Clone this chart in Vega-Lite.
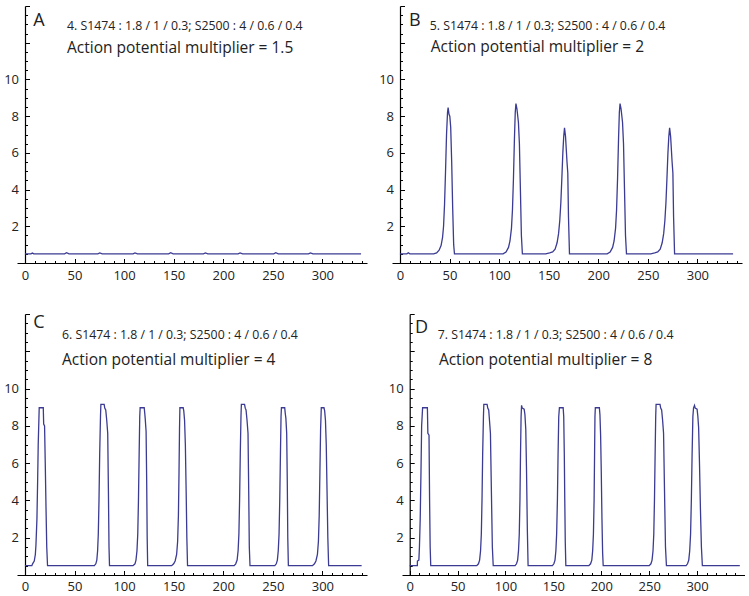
{
  "$schema": "https://vega.github.io/schema/vega-lite/v6.json",
  "padding": {"left": 3, "top": 5, "right": 0, "bottom": 0},
  "config": {
    "view": {"stroke": null},
    "axis": {"grid": false, "domainColor": "#000", "tickColor": "#000", "domainWidth": 1.2, "tickWidth": 1, "labelFont": "Open Sans", "labelFontSize": 13, "labelColor": "#222", "labelFlush": false}
  },
  "datasets": {
    "a": [
      {"t":0,"v":0.5},{"t":6,"v":0.5},{"t":7.5,"v":0.54},{"t":9,"v":0.5},{"t":40,"v":0.5},{"t":42,"v":0.56},{"t":44.5,"v":0.5},{"t":73.5,"v":0.5},{"t":75.5,"v":0.55},{"t":78,"v":0.5},{"t":109,"v":0.5},{"t":111,"v":0.55},{"t":113.5,"v":0.5},{"t":145,"v":0.5},{"t":147,"v":0.56},{"t":149.5,"v":0.5},{"t":180,"v":0.5},{"t":182,"v":0.55},{"t":184.5,"v":0.5},{"t":215,"v":0.5},{"t":217,"v":0.55},{"t":219.5,"v":0.5},{"t":251,"v":0.5},{"t":253,"v":0.56},{"t":255.5,"v":0.5},{"t":286,"v":0.5},{"t":288,"v":0.55},{"t":290.5,"v":0.5},{"t":339,"v":0.5}
    ],
    "b": [
      {"t":0,"v":0.5},{"t":7,"v":0.5},{"t":8.5,"v":0.56},{"t":10,"v":0.5},
      {"t":34,"v":0.5},{"t":37,"v":0.55},{"t":39.5,"v":0.7},{"t":41.5,"v":0.95},{"t":43,"v":1.4},{"t":44,"v":2.0},{"t":45,"v":3.2},{"t":46,"v":5.0},{"t":47,"v":7.0},{"t":48,"v":8.2},{"t":48.6,"v":8.46},{"t":49.5,"v":8.1},{"t":50.3,"v":8.0},{"t":51.2,"v":7.4},{"t":52.2,"v":5.5},{"t":53.2,"v":3.0},{"t":54.2,"v":1.0},{"t":55,"v":0.5},
      {"t":104,"v":0.5},{"t":107,"v":0.6},{"t":109.5,"v":0.85},{"t":111,"v":1.2},{"t":112.5,"v":1.9},{"t":113.5,"v":2.9},{"t":114.5,"v":4.6},{"t":115.5,"v":6.8},{"t":116.3,"v":8.2},{"t":117,"v":8.68},{"t":118,"v":8.4},{"t":119.5,"v":7.67},{"t":120.5,"v":6.5},{"t":121.5,"v":4.0},{"t":122.5,"v":1.5},{"t":123.5,"v":0.5},
      {"t":147,"v":0.5},{"t":151,"v":0.55},{"t":154,"v":0.6},{"t":156.5,"v":0.75},{"t":158.5,"v":1.1},{"t":160,"v":1.6},{"t":161.2,"v":2.3},{"t":162.3,"v":3.3},{"t":163.3,"v":4.6},{"t":164.3,"v":6.0},{"t":165.2,"v":6.9},{"t":166,"v":7.36},{"t":167,"v":6.9},{"t":168.5,"v":5.5},{"t":169.3,"v":4.9},{"t":170,"v":2.5},{"t":171,"v":0.5},
      {"t":209,"v":0.5},{"t":212,"v":0.6},{"t":214.5,"v":0.85},{"t":216,"v":1.2},{"t":217.5,"v":1.9},{"t":218.5,"v":2.9},{"t":219.5,"v":4.6},{"t":220.5,"v":6.8},{"t":221.3,"v":8.2},{"t":222,"v":8.68},{"t":223,"v":8.4},{"t":224.5,"v":7.67},{"t":225.5,"v":6.5},{"t":226.5,"v":4.0},{"t":227.5,"v":1.5},{"t":228.5,"v":0.5},
      {"t":253,"v":0.5},{"t":257,"v":0.55},{"t":260,"v":0.6},{"t":262.5,"v":0.75},{"t":264.5,"v":1.1},{"t":266,"v":1.6},{"t":267.2,"v":2.3},{"t":268.3,"v":3.3},{"t":269.3,"v":4.6},{"t":270.3,"v":6.0},{"t":271.2,"v":6.9},{"t":272,"v":7.36},{"t":273,"v":6.9},{"t":274.5,"v":5.5},{"t":275.3,"v":4.9},{"t":276,"v":2.5},{"t":277,"v":0.5},
      {"t":336,"v":0.5}
    ],
    "c": [
      {"t":0,"v":0.5},{"t":7,"v":0.5},{"t":7.7,"v":0.6},{"t":9.4,"v":0.75},{"t":10.5,"v":1.1},{"t":11.1,"v":1.6},{"t":12.1,"v":3.0},{"t":12.8,"v":5.0},{"t":13.4,"v":7.0},{"t":14.4,"v":8.97},{"t":18.5,"v":8.97},{"t":18.9,"v":8.1},{"t":19.8,"v":8.0},{"t":20.5,"v":6.0},{"t":21.3,"v":3.5},{"t":22,"v":1.5},{"t":22.8,"v":0.5},
      {"t":70,"v":0.5},{"t":71.5,"v":0.6},{"t":72.5,"v":0.8},{"t":73.3,"v":1.3},{"t":74,"v":2.2},{"t":74.7,"v":4},{"t":75.4,"v":6.5},{"t":76.2,"v":8.5},{"t":76.6,"v":9.15},{"t":79.9,"v":9.15},{"t":80.5,"v":8.95},{"t":81.5,"v":8.85},{"t":82.5,"v":8.3},{"t":83.5,"v":7.6},{"t":84.2,"v":4.5},{"t":84.8,"v":1.5},{"t":85.3,"v":0.5},
      {"t":109,"v":0.5},{"t":111,"v":0.6},{"t":112,"v":0.8},{"t":113,"v":1.3},{"t":113.8,"v":2.2},{"t":114.5,"v":4},{"t":115.2,"v":6.5},{"t":115.8,"v":8.5},{"t":116.2,"v":8.97},{"t":120.3,"v":8.97},{"t":120.8,"v":8.7},{"t":121.3,"v":8.4},{"t":122.2,"v":7.7},{"t":122.8,"v":5},{"t":123.3,"v":2},{"t":123.8,"v":0.5},
      {"t":148,"v":0.5},{"t":150,"v":0.6},{"t":151.5,"v":0.75},{"t":153,"v":1.1},{"t":154,"v":1.8},{"t":154.8,"v":3.2},{"t":155.4,"v":5.5},{"t":155.9,"v":7.8},{"t":156.3,"v":8.97},{"t":159.6,"v":8.97},{"t":160.2,"v":8.8},{"t":161,"v":8.3},{"t":161.8,"v":7.0},{"t":162.6,"v":4.5},{"t":163.3,"v":2.0},{"t":164,"v":0.5},
      {"t":211,"v":0.5},{"t":212.6,"v":0.6},{"t":214,"v":0.8},{"t":215,"v":1.3},{"t":215.8,"v":2.2},{"t":216.5,"v":4},{"t":217.2,"v":6.5},{"t":217.9,"v":8.5},{"t":218.3,"v":9.15},{"t":221.5,"v":9.15},{"t":222.2,"v":8.95},{"t":223,"v":8.85},{"t":224,"v":8.3},{"t":225,"v":7.6},{"t":225.7,"v":4.5},{"t":226.3,"v":1.5},{"t":227,"v":0.5},
      {"t":252,"v":0.5},{"t":253.5,"v":0.6},{"t":254.6,"v":0.8},{"t":255.5,"v":1.3},{"t":256.3,"v":2.2},{"t":257,"v":4},{"t":257.7,"v":6.5},{"t":258.3,"v":8.5},{"t":258.7,"v":8.97},{"t":262,"v":8.97},{"t":262.5,"v":8.7},{"t":263.2,"v":8.4},{"t":264,"v":7.6},{"t":264.6,"v":5},{"t":265.1,"v":2},{"t":265.7,"v":0.5},
      {"t":290,"v":0.5},{"t":292,"v":0.6},{"t":293.5,"v":0.75},{"t":295,"v":1.1},{"t":296,"v":1.8},{"t":296.8,"v":3.2},{"t":297.5,"v":5.5},{"t":298.2,"v":7.8},{"t":298.9,"v":8.97},{"t":301.6,"v":8.97},{"t":302.3,"v":8.8},{"t":303.1,"v":8.3},{"t":303.9,"v":7.0},{"t":304.7,"v":4.5},{"t":305.5,"v":2.0},{"t":306.3,"v":0.5},
      {"t":339.6,"v":0.5}
    ],
    "d": [
      {"t":0,"v":0.5},{"t":8,"v":0.5},{"t":8.1,"v":0.75},{"t":9.6,"v":0.8},{"t":10.2,"v":1.5},{"t":11,"v":3.0},{"t":11.8,"v":5.5},{"t":12.5,"v":8.0},{"t":13.5,"v":8.97},{"t":18.5,"v":8.97},{"t":19,"v":7.6},{"t":20.2,"v":7.5},{"t":20.8,"v":4},{"t":21.4,"v":1.5},{"t":22,"v":0.5},
      {"t":70,"v":0.5},{"t":71.8,"v":0.6},{"t":73,"v":0.8},{"t":74,"v":1.3},{"t":74.8,"v":2.2},{"t":75.5,"v":4},{"t":76.2,"v":6.5},{"t":77,"v":8.5},{"t":77.4,"v":9.15},{"t":80.8,"v":9.15},{"t":81.5,"v":8.95},{"t":82.5,"v":8.85},{"t":83.3,"v":8.3},{"t":84.3,"v":7.6},{"t":85.3,"v":4.5},{"t":86.3,"v":1.5},{"t":87.2,"v":0.5},
      {"t":110,"v":0.5},{"t":111.5,"v":0.6},{"t":112.7,"v":0.8},{"t":113.6,"v":1.3},{"t":114.4,"v":2.2},{"t":115.1,"v":4},{"t":115.7,"v":6.5},{"t":116.3,"v":8.5},{"t":116.8,"v":9.1},{"t":117.5,"v":8.95},{"t":119.5,"v":8.9},{"t":120.3,"v":8.6},{"t":121.2,"v":7.8},{"t":122,"v":5.5},{"t":122.8,"v":2.5},{"t":123.6,"v":0.5},
      {"t":149,"v":0.5},{"t":150.5,"v":0.6},{"t":151.7,"v":0.8},{"t":152.6,"v":1.3},{"t":153.4,"v":2.2},{"t":154.2,"v":4},{"t":154.9,"v":6.5},{"t":155.6,"v":8.5},{"t":156.3,"v":8.97},{"t":160.2,"v":8.97},{"t":160.8,"v":8.5},{"t":161.4,"v":6.5},{"t":161.9,"v":4},{"t":162.4,"v":1.8},{"t":163,"v":0.5},
      {"t":187,"v":0.5},{"t":188.8,"v":0.6},{"t":190.1,"v":0.8},{"t":191,"v":1.3},{"t":191.8,"v":2.2},{"t":192.5,"v":4},{"t":193,"v":6.5},{"t":193.4,"v":8.5},{"t":193.8,"v":8.97},{"t":198,"v":8.97},{"t":198.6,"v":8.6},{"t":199.3,"v":7.5},{"t":200,"v":5.5},{"t":200.7,"v":3},{"t":201.4,"v":1.2},{"t":202,"v":0.5},
      {"t":250,"v":0.5},{"t":251.8,"v":0.6},{"t":253,"v":0.8},{"t":254,"v":1.3},{"t":254.8,"v":2.2},{"t":255.5,"v":4},{"t":256.2,"v":6.5},{"t":256.8,"v":8.5},{"t":257.2,"v":9.15},{"t":261.3,"v":9.15},{"t":262,"v":8.95},{"t":263,"v":8.85},{"t":264,"v":8.3},{"t":265,"v":7.6},{"t":266,"v":4.5},{"t":267,"v":1.5},{"t":268,"v":0.5},
      {"t":288.5,"v":0.5},{"t":290,"v":0.6},{"t":291.3,"v":0.8},{"t":292.3,"v":1.3},{"t":293.2,"v":2.2},{"t":294,"v":4},{"t":294.8,"v":6.5},{"t":295.6,"v":8.5},{"t":296.3,"v":8.97},{"t":297.3,"v":9.1},{"t":298,"v":8.95},{"t":300,"v":8.9},{"t":300.8,"v":8.5},{"t":301.6,"v":7.9},{"t":302.5,"v":6},{"t":303.5,"v":3.5},{"t":304.5,"v":1.5},{"t":305.5,"v":0.5},
      {"t":344.6,"v":0.5}
    ]
  },
  "vconcat": [
    {
      "spacing": 11,
      "hconcat": [
        {
          "width": 350, "height": 257,
          "data": {"name": "a"},
          "resolve": {"axis": {"x": "independent", "y": "independent"}},
          "layer": [
            {"mark": {"type": "line", "color": "#3b3b94", "strokeWidth": 1.3},
             "encoding": {
               "x": {"field": "t", "type": "quantitative", "title": null, "scale": {"domain": [-8, 345], "nice": false, "zero": false}, "axis": {"orient": "bottom", "values": [0, 50, 100, 150, 200, 250, 300], "tickSize": -4.5, "labelPadding": 11}},
               "y": {"field": "v", "type": "quantitative", "title": null, "scale": {"domain": [0, 14], "nice": false}, "axis": {"orient": "left", "offset": -8, "values": [2, 4, 6, 8, 10], "tickSize": -4.5, "labelPadding": 11}}}},
            {"mark": {"type": "line", "opacity": 0},
             "encoding": {
               "x": {"field": "t", "type": "quantitative", "title": null, "scale": {"domain": [-8, 345], "nice": false, "zero": false}, "axis": {"orient": "bottom", "values": [10,20,30,40,60,70,80,90,110,120,130,140,160,170,180,190,210,220,230,240,260,270,280,290,310,320,330,340], "tickSize": -2.5, "labels": false, "domain": false}},
               "y": {"field": "v", "type": "quantitative", "title": null, "scale": {"domain": [0, 14], "nice": false}, "axis": {"orient": "left", "offset": -8, "values": [0.5,1,1.5,2.5,3,3.5,4.5,5,5.5,6.5,7,7.5,8.5,9,9.5,10.5,11,11.5,12.5,13,13.5], "tickSize": -2.5, "labels": false, "domain": false}}}},
            {"mark": {"type": "line", "opacity": 0},
             "encoding": {
               "x": {"field": "t", "type": "quantitative", "title": null, "scale": {"domain": [-8, 345], "nice": false, "zero": false}, "axis": null},
               "y": {"field": "v", "type": "quantitative", "title": null, "scale": {"domain": [0, 14], "nice": false}, "axis": {"orient": "left", "offset": -8, "values": [12, 14], "tickSize": -4.5, "labels": false, "domain": false}}}},
            {"data": {"values": [{"s": "A"}]},
             "mark": {"type": "text", "font": "Open Sans", "fontSize": 18, "align": "center", "baseline": "middle", "color": "#222"},
             "encoding": {"x": {"datum": 14, "type": "quantitative", "axis": null, "scale": {"domain": [-8, 345], "nice": false, "zero": false}}, "y": {"datum": 13.18, "type": "quantitative", "axis": null, "scale": {"domain": [0, 14], "nice": false}}, "text": {"field": "s"}}},
            {"data": {"values": [{"s": "4. S1474 : 1.8 / 1 / 0.3; S2500 : 4 / 0.6 / 0.4"}]},
             "mark": {"type": "text", "font": "Open Sans", "fontSize": 12.3, "align": "left", "baseline": "middle", "color": "#222"},
             "encoding": {"x": {"datum": 42.4, "type": "quantitative", "axis": null, "scale": {"domain": [-8, 345], "nice": false, "zero": false}}, "y": {"datum": 12.9, "type": "quantitative", "axis": null, "scale": {"domain": [0, 14], "nice": false}}, "text": {"field": "s"}}},
            {"data": {"values": [{"s": "Action potential multiplier = 1.5"}]},
             "mark": {"type": "text", "font": "Open Sans", "fontSize": 15.5, "align": "left", "baseline": "middle", "color": "#222"},
             "encoding": {"x": {"datum": 42.4, "type": "quantitative", "axis": null, "scale": {"domain": [-8, 345], "nice": false, "zero": false}}, "y": {"datum": 11.7, "type": "quantitative", "axis": null, "scale": {"domain": [0, 14], "nice": false}}, "text": {"field": "s"}}}
          ]
        },
        {
          "width": 350, "height": 257,
          "data": {"name": "b"},
          "resolve": {"axis": {"x": "independent", "y": "independent"}},
          "layer": [
            {"mark": {"type": "line", "color": "#3b3b94", "strokeWidth": 1.3},
             "encoding": {
               "x": {"field": "t", "type": "quantitative", "title": null, "scale": {"domain": [-8, 345], "nice": false, "zero": false}, "axis": {"orient": "bottom", "values": [0, 50, 100, 150, 200, 250, 300], "tickSize": -4.5, "labelPadding": 11}},
               "y": {"field": "v", "type": "quantitative", "title": null, "scale": {"domain": [0, 14], "nice": false}, "axis": {"orient": "left", "offset": -8, "values": [2, 4, 6, 8, 10], "tickSize": -4.5, "labelPadding": 11}}}},
            {"mark": {"type": "line", "opacity": 0},
             "encoding": {
               "x": {"field": "t", "type": "quantitative", "title": null, "scale": {"domain": [-8, 345], "nice": false, "zero": false}, "axis": {"orient": "bottom", "values": [10,20,30,40,60,70,80,90,110,120,130,140,160,170,180,190,210,220,230,240,260,270,280,290,310,320,330,340], "tickSize": -2.5, "labels": false, "domain": false}},
               "y": {"field": "v", "type": "quantitative", "title": null, "scale": {"domain": [0, 14], "nice": false}, "axis": {"orient": "left", "offset": -8, "values": [0.5,1,1.5,2.5,3,3.5,4.5,5,5.5,6.5,7,7.5,8.5,9,9.5,10.5,11,11.5,12.5,13,13.5], "tickSize": -2.5, "labels": false, "domain": false}}}},
            {"mark": {"type": "line", "opacity": 0},
             "encoding": {
               "x": {"field": "t", "type": "quantitative", "title": null, "scale": {"domain": [-8, 345], "nice": false, "zero": false}, "axis": null},
               "y": {"field": "v", "type": "quantitative", "title": null, "scale": {"domain": [0, 14], "nice": false}, "axis": {"orient": "left", "offset": -8, "values": [12, 14], "tickSize": -4.5, "labels": false, "domain": false}}}},
            {"data": {"values": [{"s": "B"}]},
             "mark": {"type": "text", "font": "Open Sans", "fontSize": 18, "align": "center", "baseline": "middle", "color": "#222"},
             "encoding": {"x": {"datum": 15, "type": "quantitative", "axis": null, "scale": {"domain": [-8, 345], "nice": false, "zero": false}}, "y": {"datum": 13.2, "type": "quantitative", "axis": null, "scale": {"domain": [0, 14], "nice": false}}, "text": {"field": "s"}}},
            {"data": {"values": [{"s": "5. S1474 : 1.8 / 1 / 0.3; S2500 : 4 / 0.6 / 0.4"}]},
             "mark": {"type": "text", "font": "Open Sans", "fontSize": 12.3, "align": "left", "baseline": "middle", "color": "#222"},
             "encoding": {"x": {"datum": 30, "type": "quantitative", "axis": null, "scale": {"domain": [-8, 345], "nice": false, "zero": false}}, "y": {"datum": 12.9, "type": "quantitative", "axis": null, "scale": {"domain": [0, 14], "nice": false}}, "text": {"field": "s"}}},
            {"data": {"values": [{"s": "Action potential multiplier = 2"}]},
             "mark": {"type": "text", "font": "Open Sans", "fontSize": 15.5, "align": "left", "baseline": "middle", "color": "#222"},
             "encoding": {"x": {"datum": 31, "type": "quantitative", "axis": null, "scale": {"domain": [-8, 345], "nice": false, "zero": false}}, "y": {"datum": 11.75, "type": "quantitative", "axis": null, "scale": {"domain": [0, 14], "nice": false}}, "text": {"field": "s"}}}
          ]
        }
      ]
    },
    {
      "spacing": 21,
      "hconcat": [
        {
          "width": 350, "height": 261,
          "data": {"name": "c"},
          "resolve": {"axis": {"x": "independent", "y": "independent"}},
          "layer": [
            {"mark": {"type": "line", "color": "#3b3b94", "strokeWidth": 1.3},
             "encoding": {
               "x": {"field": "t", "type": "quantitative", "title": null, "scale": {"domain": [-8, 345], "nice": false, "zero": false}, "axis": {"orient": "bottom", "values": [0, 50, 100, 150, 200, 250, 300], "tickSize": -4.5, "labelPadding": 10}},
               "y": {"field": "v", "type": "quantitative", "title": null, "scale": {"domain": [0, 14], "nice": false}, "axis": {"orient": "left", "offset": -8, "values": [2, 4, 6, 8, 10], "tickSize": -4.5, "labelPadding": 11}}}},
            {"mark": {"type": "line", "opacity": 0},
             "encoding": {
               "x": {"field": "t", "type": "quantitative", "title": null, "scale": {"domain": [-8, 345], "nice": false, "zero": false}, "axis": {"orient": "bottom", "values": [10,20,30,40,60,70,80,90,110,120,130,140,160,170,180,190,210,220,230,240,260,270,280,290,310,320,330,340], "tickSize": -2.5, "labels": false, "domain": false}},
               "y": {"field": "v", "type": "quantitative", "title": null, "scale": {"domain": [0, 14], "nice": false}, "axis": {"orient": "left", "offset": -8, "values": [0.5,1,1.5,2.5,3,3.5,4.5,5,5.5,6.5,7,7.5,8.5,9,9.5,10.5,11,11.5,12.5,13,13.5], "tickSize": -2.5, "labels": false, "domain": false}}}},
            {"mark": {"type": "line", "opacity": 0},
             "encoding": {
               "x": {"field": "t", "type": "quantitative", "title": null, "scale": {"domain": [-8, 345], "nice": false, "zero": false}, "axis": null},
               "y": {"field": "v", "type": "quantitative", "title": null, "scale": {"domain": [0, 14], "nice": false}, "axis": {"orient": "left", "offset": -8, "values": [12, 14], "tickSize": -4.5, "labels": false, "domain": false}}}},
            {"data": {"values": [{"s": "C"}]},
             "mark": {"type": "text", "font": "Open Sans", "fontSize": 18, "align": "center", "baseline": "middle", "color": "#222"},
             "encoding": {"x": {"datum": 14, "type": "quantitative", "axis": null, "scale": {"domain": [-8, 345], "nice": false, "zero": false}}, "y": {"datum": 13.5, "type": "quantitative", "axis": null, "scale": {"domain": [0, 14], "nice": false}}, "text": {"field": "s"}}},
            {"data": {"values": [{"s": "6. S1474 : 1.8 / 1 / 0.3; S2500 : 4 / 0.6 / 0.4"}]},
             "mark": {"type": "text", "font": "Open Sans", "fontSize": 12.3, "align": "left", "baseline": "middle", "color": "#222"},
             "encoding": {"x": {"datum": 37.4, "type": "quantitative", "axis": null, "scale": {"domain": [-8, 345], "nice": false, "zero": false}}, "y": {"datum": 12.9, "type": "quantitative", "axis": null, "scale": {"domain": [0, 14], "nice": false}}, "text": {"field": "s"}}},
            {"data": {"values": [{"s": "Action potential multiplier = 4"}]},
             "mark": {"type": "text", "font": "Open Sans", "fontSize": 15.5, "align": "left", "baseline": "middle", "color": "#222"},
             "encoding": {"x": {"datum": 37.4, "type": "quantitative", "axis": null, "scale": {"domain": [-8, 345], "nice": false, "zero": false}}, "y": {"datum": 11.55, "type": "quantitative", "axis": null, "scale": {"domain": [0, 14], "nice": false}}, "text": {"field": "s"}}}
          ]
        },
        {
          "width": 343, "height": 261,
          "data": {"name": "d"},
          "resolve": {"axis": {"x": "independent", "y": "independent"}},
          "layer": [
            {"mark": {"type": "line", "color": "#3b3b94", "strokeWidth": 1.3},
             "encoding": {
               "x": {"field": "t", "type": "quantitative", "title": null, "scale": {"domain": [-8, 350], "nice": false, "zero": false}, "axis": {"orient": "bottom", "values": [0, 50, 100, 150, 200, 250, 300], "tickSize": -4.5, "labelPadding": 10}},
               "y": {"field": "v", "type": "quantitative", "title": null, "scale": {"domain": [0, 14], "nice": false}, "axis": {"orient": "left", "offset": -7.7, "values": [2, 4, 6, 8, 10], "tickSize": -4.5, "labelPadding": 11}}}},
            {"mark": {"type": "line", "opacity": 0},
             "encoding": {
               "x": {"field": "t", "type": "quantitative", "title": null, "scale": {"domain": [-8, 350], "nice": false, "zero": false}, "axis": {"orient": "bottom", "values": [10,20,30,40,60,70,80,90,110,120,130,140,160,170,180,190,210,220,230,240,260,270,280,290,310,320,330,340], "tickSize": -2.5, "labels": false, "domain": false}},
               "y": {"field": "v", "type": "quantitative", "title": null, "scale": {"domain": [0, 14], "nice": false}, "axis": {"orient": "left", "offset": -7.7, "values": [0.5,1,1.5,2.5,3,3.5,4.5,5,5.5,6.5,7,7.5,8.5,9,9.5,10.5,11,11.5,12.5,13,13.5], "tickSize": -2.5, "labels": false, "domain": false}}}},
            {"mark": {"type": "line", "opacity": 0},
             "encoding": {
               "x": {"field": "t", "type": "quantitative", "title": null, "scale": {"domain": [-8, 350], "nice": false, "zero": false}, "axis": null},
               "y": {"field": "v", "type": "quantitative", "title": null, "scale": {"domain": [0, 14], "nice": false}, "axis": {"orient": "left", "offset": -7.7, "values": [12, 14], "tickSize": -4.5, "labels": false, "domain": false}}}},
            {"data": {"values": [{"s": "D"}]},
             "mark": {"type": "text", "font": "Open Sans", "fontSize": 18, "align": "center", "baseline": "middle", "color": "#222"},
             "encoding": {"x": {"datum": 12.5, "type": "quantitative", "axis": null, "scale": {"domain": [-8, 350], "nice": false, "zero": false}}, "y": {"datum": 13.25, "type": "quantitative", "axis": null, "scale": {"domain": [0, 14], "nice": false}}, "text": {"field": "s"}}},
            {"data": {"values": [{"s": "7. S1474 : 1.8 / 1 / 0.3; S2500 : 4 / 0.6 / 0.4"}]},
             "mark": {"type": "text", "font": "Open Sans", "fontSize": 12.3, "align": "left", "baseline": "middle", "color": "#222"},
             "encoding": {"x": {"datum": 29.3, "type": "quantitative", "axis": null, "scale": {"domain": [-8, 350], "nice": false, "zero": false}}, "y": {"datum": 12.9, "type": "quantitative", "axis": null, "scale": {"domain": [0, 14], "nice": false}}, "text": {"field": "s"}}},
            {"data": {"values": [{"s": "Action potential multiplier = 8"}]},
             "mark": {"type": "text", "font": "Open Sans", "fontSize": 15.5, "align": "left", "baseline": "middle", "color": "#222"},
             "encoding": {"x": {"datum": 30.5, "type": "quantitative", "axis": null, "scale": {"domain": [-8, 350], "nice": false, "zero": false}}, "y": {"datum": 11.55, "type": "quantitative", "axis": null, "scale": {"domain": [0, 14], "nice": false}}, "text": {"field": "s"}}}
          ]
        }
      ]
    }
  ],
  "spacing": 30
}
